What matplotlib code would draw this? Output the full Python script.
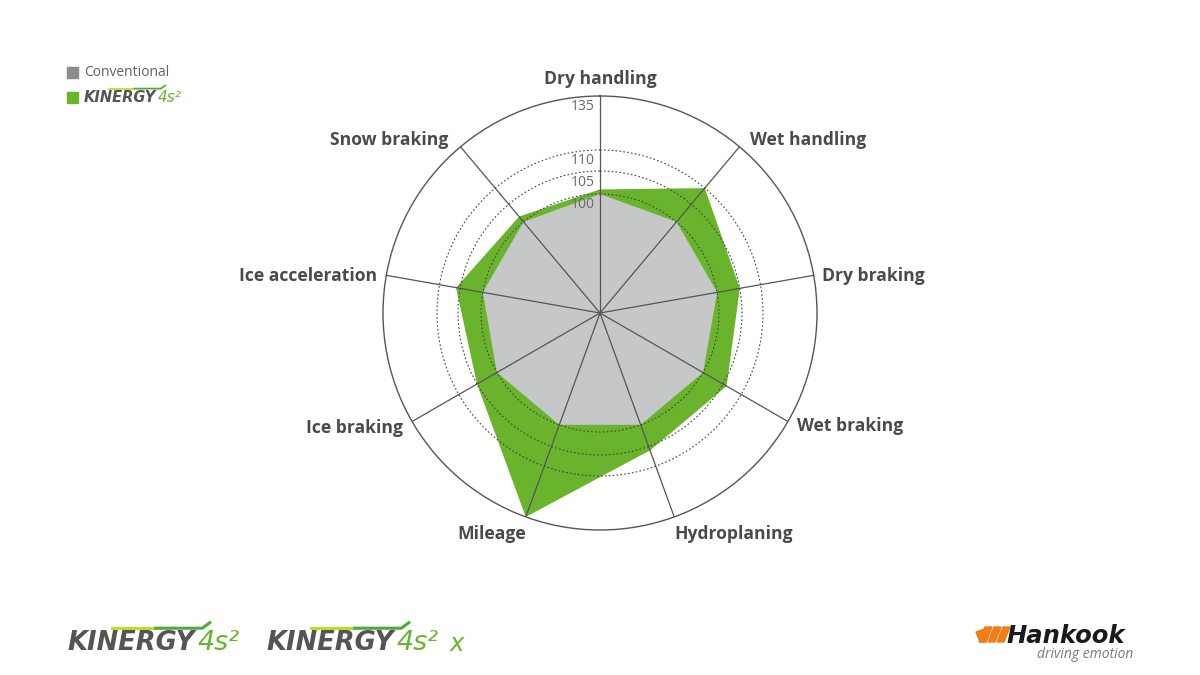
import numpy as np
import matplotlib
matplotlib.use("Agg")
import matplotlib.pyplot as plt
from matplotlib.patches import Rectangle, Polygon
from matplotlib.lines import Line2D

# ---------------- data ----------------
categories = ["Dry handling", "Wet handling", "Dry braking", "Wet braking",
              "Hydroplaning", "Mileage", "Ice braking", "Ice acceleration",
              "Snow braking"]
conventional = [100, 100, 100, 100, 100, 100, 100, 100, 100]
kinergy = [101, 110, 105, 106, 106, 135, 105, 106, 101.5]
rticks = [100, 105, 110, 135]
series_names = ["Conventional", "KINERGY 4s²"]

# radial scale of the original (non linear): value -> pixel radius
scale_vals = [72.3, 100, 105, 110, 135]
scale_pix = [0, 119, 142, 163, 217]

GREEN = "#6ab42d"
GREY_FILL = "#c6c7c8"
TXT = "#4a4a4a"

def fwd(v):
    return np.interp(v, scale_vals, scale_pix)

def inv(r):
    return np.interp(r, scale_pix, scale_vals)

W, H = 1200, 675
fig = plt.figure(figsize=(12, 6.75), dpi=100)
fig.patch.set_facecolor("white")

cx, cy, R = 600, 313, 217
ax = fig.add_axes([(cx - R) / W, (H - cy - R) / H, 2 * R / W, 2 * R / H],
                  projection="polar")
ax.set_theta_zero_location("N")
ax.set_theta_direction(-1)
ax.set_rscale("function", functions=(fwd, inv))
ax.set_rlim(scale_vals[0], 135)

n = len(categories)
theta = np.arange(n) * 2 * np.pi / n
tc = np.concatenate([theta, theta[:1]])

ax.fill(tc, kinergy + kinergy[:1], color=GREEN, lw=0, zorder=1)
ax.fill(tc, conventional + conventional[:1], color=GREY_FILL, lw=0, zorder=1.5)

# grid
ax.set_axisbelow(False)
ax.set_xticks(theta)
ax.set_xticklabels([])
ax.set_rgrids([100, 105, 110], labels=[])
ax.xaxis.grid(True, color="#555555", lw=0.9, ls="-")
ax.yaxis.grid(True, color="#444444", lw=0.8, ls=(0, (1.5, 2)))
ax.spines["polar"].set_color("#555555")
ax.spines["polar"].set_linewidth(1.0)
ax.tick_params(length=0)
ax.set_facecolor("none")

# radial tick labels
for v in rticks:
    ax.annotate(str(v), xy=(0, v), xytext=(-5, -11), textcoords="offset pixels",
                ha="right", va="center", fontsize=10, color="#6a6a6a",
                family="Open Sans", annotation_clip=False)

# category labels
offsets = [((0, 17), "center"), ((11, 7), "left"), ((8, -1), "left"),
           ((9, -5), "left"), ((0, -17), "left"), ((0, -17), "right"),
           ((-9, -6), "right"), ((-9, -1), "right"), ((-12, 7), "right")]
for t, lab, (off, ha) in zip(theta, categories, offsets):
    ax.annotate(lab, xy=(t, 135), xytext=off, textcoords="offset pixels",
                ha=ha, va="center", fontsize=12.6, fontweight="bold",
                color=TXT, family="Open Sans", annotation_clip=False)

# ---------------- legend ----------------
def fx(x):
    return x / W

def fy(y):
    return 1 - y / H

fig.add_artist(Rectangle((fx(67), fy(78)), 11 / W, 11 / H, color="#8c8c8c",
                         transform=fig.transFigure))
fig.text(fx(84), fy(72), series_names[0], fontsize=10, color="#606060",
         family="Open Sans", va="center", ha="left")
fig.add_artist(Rectangle((fx(67), fy(103)), 11 / W, 11 / H, color=GREEN,
                         transform=fig.transFigure))


def kinergy_logo(x, y, size, suffix="", gap=0.15, sfx_x=None):
    t1 = fig.text(fx(x), fy(y), "KINERGY", fontsize=size, color="#555555",
                  style="italic", fontweight="heavy", family="DejaVu Sans",
                  va="center", ha="left")
    fig.canvas.draw()
    bb = t1.get_window_extent()
    x2 = bb.x1 + size * gap
    t2 = fig.text(x2 / W, fy(y), "4s²", fontsize=size * 1.05,
                  color=GREEN, style="italic", family="DejaVu Sans",
                  va="center", ha="left")
    fig.canvas.draw()
    bb2 = t2.get_window_extent()
    if suffix:
        fig.text(fx(sfx_x), fy(y + 1), suffix, fontsize=size * 0.95,
                 color=GREEN, style="italic", family="DejaVu Sans",
                 va="center", ha="left")
    # swoosh
    x0 = x + (bb.x1 - bb.x0) * 0.35
    x1 = bb2.x0 + (bb2.x1 - bb2.x0) * 0.3
    yl = y - size * 0.8
    fig.add_artist(Line2D([fx(x0), fx(x0 + (x1 - x0) * 0.45)], [fy(yl), fy(yl)],
                          color="#c5d82e", lw=size * 0.12,
                          transform=fig.transFigure))
    fig.add_artist(Line2D([fx(x0 + (x1 - x0) * 0.45), fx(x1 - size * 0.4), fx(x1)],
                          [fy(yl), fy(yl), fy(yl - size * 0.3)],
                          color="#4cab3a", lw=size * 0.12,
                          transform=fig.transFigure))

kinergy_logo(84, 97, 10.5)
kinergy_logo(67, 643, 18.5)
kinergy_logo(266, 643, 18.5, "x", sfx_x=450)

# ---------------- Hankook logo ----------------
for i in range(3):
    xs = 985 + i * 9
    fig.add_artist(Polygon([(fx(xs), fy(627)), (fx(xs + 7), fy(627)),
                            (fx(xs + 1), fy(642)), (fx(xs - 6), fy(642))],
                           closed=True, color="#f07c1a",
                           transform=fig.transFigure))
fig.add_artist(Polygon([(fx(976), fy(632)), (fx(990), fy(627)),
                        (fx(985), fy(642)), (fx(980), fy(642))],
                       closed=True, color="#f07c1a", transform=fig.transFigure))
fig.text(fx(1006), fy(643), "Hankook", fontsize=17.5, fontweight="heavy",
         style="italic", color="#1a1a1a", family="DejaVu Sans",
         va="baseline", ha="left")
fig.text(fx(1133), fy(647), "driving emotion", fontsize=10, style="italic",
         color="#7a7a7a", family="Open Sans", va="top", ha="right")

fig.savefig("out.png", dpi=100, facecolor="white")
